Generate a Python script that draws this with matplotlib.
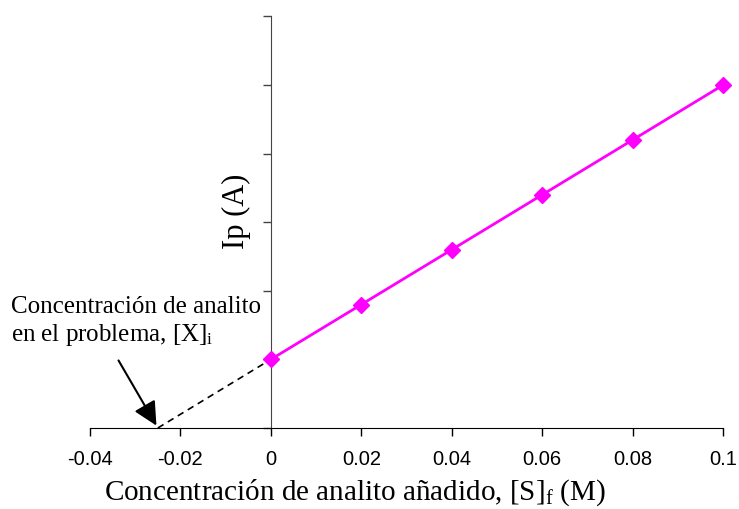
import numpy as np
import matplotlib.pyplot as plt

plt.rcParams['mathtext.fontset'] = 'custom'
plt.rcParams['mathtext.rm'] = 'Liberation Serif'
plt.rcParams['mathtext.it'] = 'Liberation Serif:italic'

# datos de la adición estándar
conc_added = [0.0, 0.02, 0.04, 0.06, 0.08, 0.1]
ip_values = [1.0, 1.8, 2.6, 3.4, 4.2, 5.0]
x_intercept = -0.025
x_ticks = [-0.04, -0.02, 0, 0.02, 0.04, 0.06, 0.08, 0.1]
x_tick_labels = ['-0.04', '-0.02', '0', '0.02', '0.04', '0.06', '0.08', '0.1']
y_ticks = [0, 1, 2, 3, 4, 5, 6]

fig = plt.figure(figsize=(7.39, 5.09), dpi=100)
ax = fig.add_axes([90 / 739, 81 / 509, 633 / 739, 411.5 / 509])

# extrapolación (línea discontinua)
ax.plot([x_intercept, conc_added[0]], [0, ip_values[0]], color='black',
        lw=1.2, linestyle=(0, (4, 3)), zorder=2)
# datos
ax.plot(conc_added, ip_values, color='#ff00ff', lw=2, marker='D',
        markersize=8, zorder=3, clip_on=False)

ax.set_xlim(-0.04, 0.1)
ax.set_ylim(0, 6)
ax.spines['top'].set_visible(False)
ax.spines['right'].set_visible(False)
ax.spines['left'].set_position(('data', 0))
ax.spines['left'].set_color('#444444')

ax.set_xticks(x_ticks)
ax.set_xticklabels(x_tick_labels, fontfamily='Liberation Sans', fontsize=14.5)
ax.set_yticks(y_ticks)
ax.set_yticklabels([])
ax.tick_params(axis='x', direction='out', length=6, width=1, pad=10)
ax.tick_params(axis='y', direction='out', length=6, width=1, color='#444444')

fig.text(355 / 739, 1 - 500 / 509,
         'Concentración de analito añadido, [S]$_\\mathrm{f}$ (M)',
         fontfamily='Liberation Serif', fontsize=21, ha='center', va='baseline')
fig.text(236 / 739, 1 - 211 / 509, 'Ip (A)', rotation=90,
         fontfamily='Liberation Serif', fontsize=22, ha='center', va='center')

ax.annotate('', xy=(x_intercept, 0), xytext=(-0.034, 1.02),
            arrowprops=dict(arrowstyle='-|>', color='black', lw=1.5,
                            mutation_scale=36),
            annotation_clip=False)
fig.text(11 / 739, 1 - 296 / 509,
         'Concentración de analito\nen el problema, [X]$_\\mathrm{i}$',
         fontfamily='Liberation Serif', fontsize=18, ha='left', va='top',
         linespacing=1.2)

fig.savefig('out.png', dpi=100)
